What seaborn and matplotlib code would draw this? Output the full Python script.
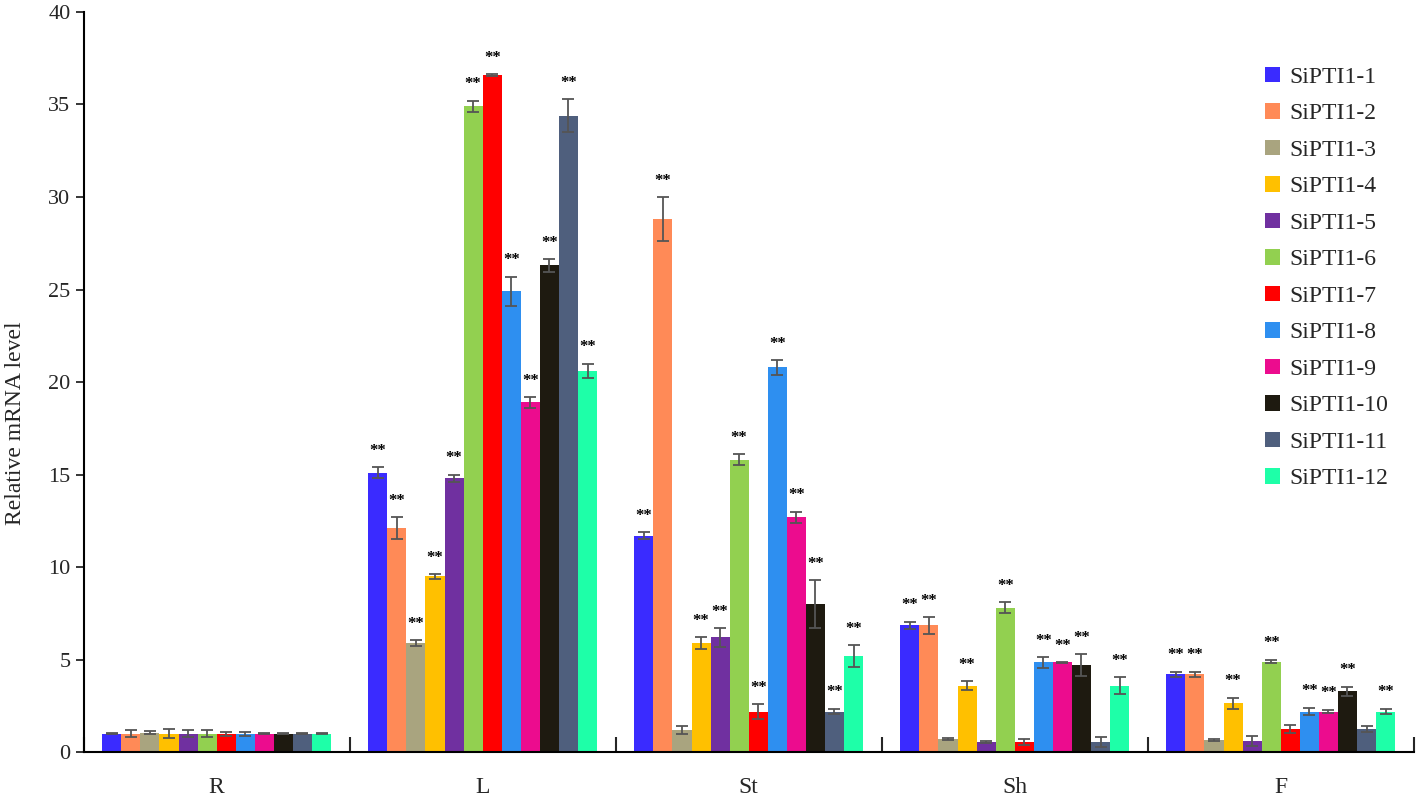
import numpy as np
import pandas as pd
import seaborn as sns
import matplotlib
matplotlib.use('Agg')
import matplotlib.pyplot as plt

# tissues and genes
tissues = ['R', 'L', 'St', 'Sh', 'F']
genes = ['SiPTI1-%d' % i for i in range(1, 13)]

# relative expression, one list per tissue (genes 1..12)
expr_R = [1.0, 1.0, 1.05, 1.0, 1.0, 1.0, 1.0, 1.0, 1.0, 1.0, 1.0, 1.0]
expr_L = [15.1, 12.1, 5.9, 9.5, 14.8, 34.9, 36.6, 24.9, 18.9, 26.3, 34.4, 20.6]
expr_St = [11.7, 28.8, 1.2, 5.9, 6.2, 15.8, 2.2, 20.8, 12.7, 8.0, 2.2, 5.2]
expr_Sh = [6.85, 6.85, 0.7, 3.6, 0.55, 7.8, 0.55, 4.85, 4.85, 4.7, 0.55, 3.6]
expr_F = [4.2, 4.2, 0.65, 2.65, 0.6, 4.9, 1.25, 2.2, 2.2, 3.3, 1.25, 2.2]

# standard errors
err_R = [0.03, 0.2, 0.08, 0.25, 0.2, 0.2, 0.1, 0.1, 0.02, 0.02, 0.02, 0.03]
err_L = [0.3, 0.6, 0.15, 0.12, 0.2, 0.3, 0.05, 0.8, 0.3, 0.35, 0.9, 0.4]
err_St = [0.2, 1.2, 0.2, 0.3, 0.5, 0.3, 0.4, 0.4, 0.3, 1.3, 0.15, 0.6]
err_Sh = [0.2, 0.45, 0.05, 0.25, 0.05, 0.3, 0.15, 0.3, 0.02, 0.6, 0.25, 0.45]
err_F = [0.15, 0.15, 0.05, 0.3, 0.25, 0.1, 0.2, 0.2, 0.1, 0.25, 0.15, 0.15]

# significance marks (1 = "**")
sig_R = [0] * 12
sig_L = [1] * 12
sig_St = [1, 1, 0, 1, 1, 1, 1, 1, 1, 1, 1, 1]
sig_Sh = [1, 1, 0, 1, 0, 1, 0, 1, 1, 1, 0, 1]
sig_F = [1, 1, 0, 1, 0, 1, 0, 1, 1, 1, 0, 1]

colors = ['#3A2BFF', '#FF8A57', '#A9A47F', '#FFC000', '#7030A0', '#92D050',
          '#FF0000', '#2E8FF0', '#EC0C8E', '#1E1A10', '#4F5F7D', '#1EFFA8']

expr = [expr_R, expr_L, expr_St, expr_Sh, expr_F]
errs = [err_R, err_L, err_St, err_Sh, err_F]
sigs = [sig_R, sig_L, sig_St, sig_Sh, sig_F]

rows = []
for t, vals, es, ss in zip(tissues, expr, errs, sigs):
    for g, v, e, s in zip(genes, vals, es, ss):
        rows.append({'tissue': t, 'gene': g, 'value': v, 'err': e, 'sig': s})
df = pd.DataFrame(rows)

sns.set_style('white')
plt.rcParams['font.family'] = ['Liberation Serif', 'DejaVu Serif']

fig, ax = plt.subplots(figsize=(14.18, 7.96), dpi=100)
fig.subplots_adjust(left=0.059, right=0.997, bottom=0.055, top=0.985)

sns.barplot(data=df, x='tissue', y='value', hue='gene', order=tissues,
            hue_order=genes, palette=colors, width=0.86, errorbar=None,
            saturation=1, linewidth=0, ax=ax)

for i, g in enumerate(genes):
    cont = ax.containers[i]
    sub = df[df['gene'] == g].set_index('tissue').loc[tissues]
    xs = [p.get_x() + p.get_width() / 2 for p in cont.patches]
    ys = [p.get_height() for p in cont.patches]
    ax.errorbar(xs, ys, yerr=sub['err'].values, fmt='none', ecolor='#555555',
                elinewidth=1.3, capsize=4, capthick=1.3)
    for x, y, e, s in zip(xs, ys, sub['err'].values, sub['sig'].values):
        if s:
            ax.text(x, y + e + 0.45, '**', ha='center', va='bottom',
                    fontsize=12, fontweight='bold', color='black')

ax.set_ylim(0, 40)
ax.set_xlim(-0.5, len(tissues) - 0.5)
ax.set_yticks(range(0, 41, 5))
ax.set_ylabel('Relative mRNA level', fontsize=17)
ax.yaxis.set_label_coords(-0.043, 0.445)
ax.set_xlabel('')

# boundary ticks on the x axis, labels at group centres
ax.set_xticks(np.arange(-0.5, len(tissues), 1.0))
ax.set_xticklabels([])
ax.set_xticks(np.arange(len(tissues)), minor=True)
ax.set_xticklabels(tissues, minor=True, fontsize=17)
ax.tick_params(axis='x', which='major', direction='in', length=11, width=1.5, bottom=True)
ax.tick_params(axis='x', which='minor', length=0, pad=18)
ax.tick_params(axis='y', direction='out', length=6, width=1.3, left=True, labelsize=16)

for side in ['top', 'right']:
    ax.spines[side].set_visible(False)
for side in ['left', 'bottom']:
    ax.spines[side].set_color('black')
    ax.spines[side].set_linewidth(1.5)

ax.legend(loc='upper right', bbox_to_anchor=(0.997, 0.955), frameon=False,
          fontsize=17, handlelength=0.65, handleheight=0.65, labelspacing=0.65,
          handletextpad=0.4)

fig.savefig('out.png', dpi=100)
